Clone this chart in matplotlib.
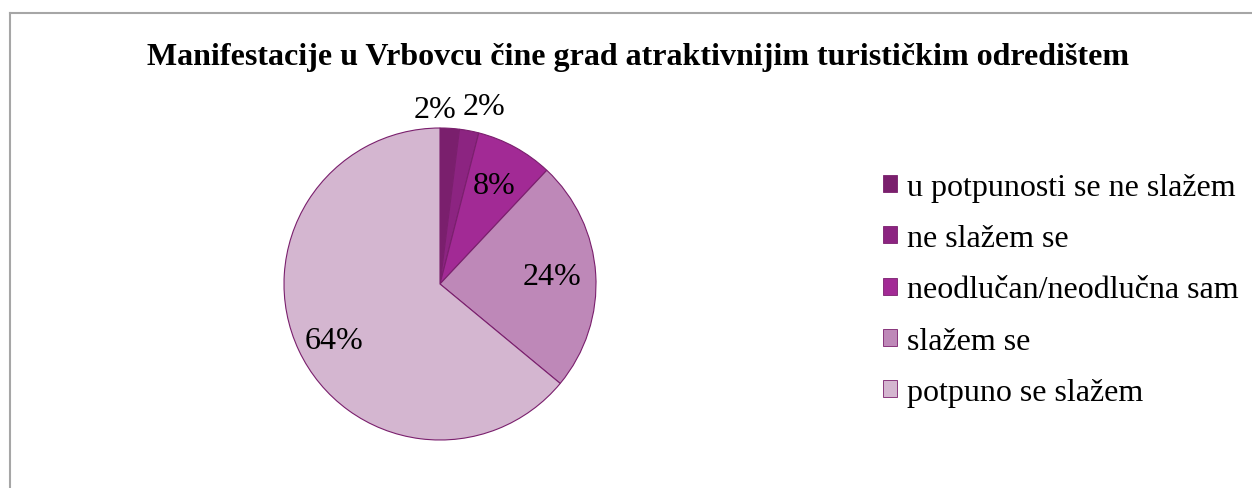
import matplotlib
matplotlib.use("Agg")
from matplotlib import pyplot as plt
from matplotlib.lines import Line2D
from matplotlib.patches import Patch

# survey answers
labels = ["u potpunosti se ne slažem", "ne slažem se", "neodlučan/neodlučna sam",
          "slažem se", "potpuno se slažem"]
shares = [2, 2, 8, 24, 64]
colors = ["#7A1F6D", "#8C2481", "#A22A95", "#BE88B8", "#D4B6D0"]
title = "Manifestacije u Vrbovcu čine grad atraktivnijim turističkim odredištem"

plt.rcParams["font.family"] = ["Liberation Serif", "DejaVu Serif"]

fig = plt.figure(figsize=(12.52, 4.89), dpi=100)

# chart frame (gray, runs off the right and bottom edges)
fig.add_artist(Line2D([10 / 1252, 1], [1 - 14 / 489, 1 - 14 / 489], color="#a6a6a6", lw=1.5))
fig.add_artist(Line2D([10 / 1252, 10 / 1252], [0, 1 - 14 / 489], color="#a6a6a6", lw=1.5))

fig.text(638 / 1252, 1 - 58 / 489, title, ha="center", va="center",
         fontsize=23, fontweight="bold")

# pie: center (440,285), radius 156 px
r = 156
ax = fig.add_axes([(440 - r) / 1252, 1 - (285 + r) / 489, 2 * r / 1252, 2 * r / 489])
wedges, texts, autotexts = ax.pie(
    shares, colors=colors, startangle=90, counterclock=False,
    autopct="%1.0f%%", pctdistance=0.72,
    wedgeprops=dict(edgecolor="#7A1F6D", linewidth=0.8),
    textprops=dict(fontsize=23, color="black"))
ax.set_aspect("equal")
ax.set_xlim(-1, 1)
ax.set_ylim(-1, 1)

# the two tiny slices get their labels outside the pie
autotexts[0].set_position((-0.03, 1.12))
autotexts[1].set_position((0.28, 1.14))
autotexts[4].set_position((-0.68, -0.36))

handles = [Patch(facecolor=c, edgecolor="#7A1F6D", linewidth=0.6) for c in colors]
fig.legend(handles, labels, loc="center left", bbox_to_anchor=(883 / 1252, 1 - 291 / 489),
           frameon=False, fontsize=23, handlelength=0.45, handleheight=0.45,
           handletextpad=0.3, labelspacing=0.7, borderaxespad=0, borderpad=0)

fig.savefig("out.png", dpi=100)
